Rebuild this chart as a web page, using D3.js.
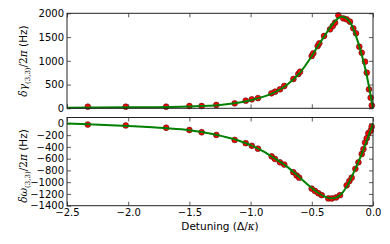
<!DOCTYPE html>
<html>
<head>
<meta charset="utf-8">
<script src="https://cdn.jsdelivr.net/npm/d3@7"></script>
<style>
  body { margin: 0; background: #fff; }
  svg { display: block; font-family: "DejaVu Sans", sans-serif; }
</style>
</head>
<body>
<svg id="grafico" width="390" height="244"></svg>
<script>
// datos: detuning (Delta/kappa) y desplazamientos en Hz
var detuningGamma = [-2.33, -2.02, -1.69, -1.50, -1.40, -1.28, -1.13, -1.04, -0.99, -0.94,
    -0.83, -0.80, -0.76, -0.725, -0.65, -0.61, -0.596, -0.501, -0.488, -0.452, -0.439, -0.40,
    -0.351, -0.329, -0.31, -0.283, -0.243, -0.215, -0.188, -0.161, -0.139, -0.112, -0.092,
    -0.065, -0.051, -0.033, -0.019, -0.01];
var gamma = [34, 34, 34, 48, 48, 70, 105, 160, 189, 215,
    316, 350, 400, 469, 617, 722, 770, 1101, 1158, 1311, 1368, 1522,
    1663, 1732, 1802, 1958, 1894, 1873, 1823, 1684, 1579, 1297, 1170,
    981, 749, 400, 223, 60];

var detuningOmega = [-2.33, -2.02, -1.69, -1.50, -1.40, -1.28, -1.13, -1.04, -0.99, -0.94,
    -0.828, -0.801, -0.76, -0.725, -0.651, -0.624, -0.603, -0.501, -0.474, -0.447, -0.419,
    -0.365, -0.337, -0.302, -0.27, -0.215, -0.193, -0.174, -0.144, -0.119, -0.092, -0.078,
    -0.065, -0.051, -0.038, -0.019, -0.011];
var omega = [-20, -35, -74, -113, -151, -197, -281, -336, -381, -430,
    -561, -605, -662, -700, -830, -885, -924, -1109, -1149, -1188, -1221,
    -1277, -1277, -1260, -1221, -1053, -981, -924, -773, -662, -521, -437,
    -326, -252, -168, -124, -57];

// curvas de ajuste (verde)
var ajusteX = [-2.5, -2.0, -1.5, -1.25, -1.0, -0.9, -0.8, -0.7, -0.6, -0.5, -0.45, -0.4,
    -0.35, -0.3, -0.26, -0.22, -0.18, -0.14, -0.1, -0.06, -0.03, 0];
var ajusteGamma = [10, 20, 40, 70, 170, 240, 340, 500, 740, 1100, 1310, 1510,
    1700, 1860, 1930, 1900, 1780, 1530, 1200, 800, 420, 0];
var ajusteOmegaX = [-2.5, -2.33, -2.0, -1.7, -1.5, -1.3, -1.1, -1.0, -0.9, -0.8, -0.7, -0.6,
    -0.5, -0.45, -0.4, -0.35, -0.3, -0.25, -0.2, -0.15, -0.1, -0.05, 0];
var ajusteOmega = [0, -15, -45, -80, -115, -185, -290, -370, -470, -600, -740, -920,
    -1100, -1180, -1240, -1275, -1260, -1180, -1020, -800, -560, -290, 0];

var ticksX = [-2.5, -2.0, -1.5, -1.0, -0.5, 0.0];
var ticksGamma = [0, 500, 1000, 1500, 2000];
var ticksOmega = [0, -200, -400, -600, -800, -1000, -1200, -1400];

var svg = d3.select("#grafico");
var LEFT = 67, RIGHT = 373;

var escalaX = d3.scaleLinear().domain([-2.5, 0]).range([LEFT, RIGHT]);
var yArriba = d3.scaleLinear().domain([0, 2000]).range([108.3, 13.3]);
var yAbajo = d3.scaleLinear().domain([-1400, 100]).range([205.7, 117.5]);

var fmt = function (d) { return d < 0 ? "\u2212" + Math.abs(d) : "" + d; };
var fmtX = function (d) { return (d < 0 ? "\u2212" : "") + Math.abs(d).toFixed(1); };

function panel(escalaY, ticksY, puntosX, puntosY, lineaX, lineaY, conEtiquetasX) {
    var y0 = escalaY.range()[0], y1 = escalaY.range()[1];
    var g = svg.append("g");

    // ejes con marcas hacia adentro
    var ejeIzq = d3.axisLeft(escalaY).tickValues(ticksY).tickSize(-4).tickPadding(3).tickFormat(fmt);
    var ejeDer = d3.axisRight(escalaY).tickValues(ticksY).tickSize(-4).tickFormat("");
    var ejeAbajo = d3.axisBottom(escalaX).tickValues(ticksX).tickSize(-4).tickPadding(3).tickFormat(conEtiquetasX ? fmtX : "");
    var ejeArriba = d3.axisTop(escalaX).tickValues(ticksX).tickSize(-4).tickFormat("");

    [[ejeIzq, "translate(" + LEFT + ",0)"], [ejeDer, "translate(" + RIGHT + ",0)"],
     [ejeAbajo, "translate(0," + y0 + ")"], [ejeArriba, "translate(0," + y1 + ")"]].forEach(function (e) {
        var a = g.append("g").attr("transform", e[1]).call(e[0]);
        a.select(".domain").remove();
        a.selectAll("line").attr("stroke", "#333").attr("stroke-width", 0.8);
        a.selectAll("text").attr("fill", "#000").style("font-size", "10px").style("font-family", "DejaVu Sans");
    });

    // puntos
    g.selectAll(".punto").data(puntosX).enter().append("circle")
        .attr("cx", function (d) { return escalaX(d); })
        .attr("cy", function (d, i) { return escalaY(puntosY[i]); })
        .attr("r", 2.9)
        .attr("fill", "#ff0000")
        .attr("stroke", "#4a1010")
        .attr("stroke-width", 0.6);

    // curva de ajuste
    var linea = d3.line()
        .x(function (d) { return escalaX(d); })
        .y(function (d, i) { return escalaY(lineaY[i]); })
        .curve(d3.curveMonotoneX);
    g.append("path").attr("d", linea(lineaX))
        .attr("fill", "none").attr("stroke", "#008000").attr("stroke-width", 2);

    // marco
    g.append("rect").attr("x", LEFT).attr("y", y1).attr("width", RIGHT - LEFT).attr("height", y0 - y1)
        .attr("fill", "none").attr("stroke", "#222").attr("stroke-width", 1);
}

panel(yArriba, ticksGamma, detuningGamma, gamma, ajusteX, ajusteGamma, false);
panel(yAbajo, ticksOmega, detuningOmega, omega, ajusteOmegaX, ajusteOmega, true);

// etiqueta del eje X
var tx = svg.append("text").attr("x", (LEFT + RIGHT) / 2).attr("y", 230)
    .attr("text-anchor", "middle").style("font-size", "10.5px");
tx.append("tspan").text("Detuning (\u0394/");
tx.append("tspan").style("font-style", "italic").style("font-family", "DejaVu Serif").text("\u03ba");
tx.append("tspan").text(")");

// etiquetas de los ejes Y
function etiquetaY(cy, letra) {
    var t = svg.append("text")
        .attr("transform", "translate(27," + cy + ") rotate(-90)")
        .attr("text-anchor", "middle").style("font-size", "10.5px");
    t.append("tspan").style("font-family", "DejaVu Serif").style("font-style", "italic").text("\u03b4" + letra);
    t.append("tspan").style("font-family", "DejaVu Serif").style("font-size", "7px").attr("dy", 2.5).text("(3,3)");
    t.append("tspan").style("font-family", "DejaVu Serif").attr("dy", -2.5).text("/2");
    t.append("tspan").style("font-family", "DejaVu Serif").style("font-style", "italic").text("\u03c0");
    t.append("tspan").text(" (Hz)");
}
etiquetaY(61, "\u03b3");
etiquetaY(166, "\u03c9");
</script>
</body>
</html>
